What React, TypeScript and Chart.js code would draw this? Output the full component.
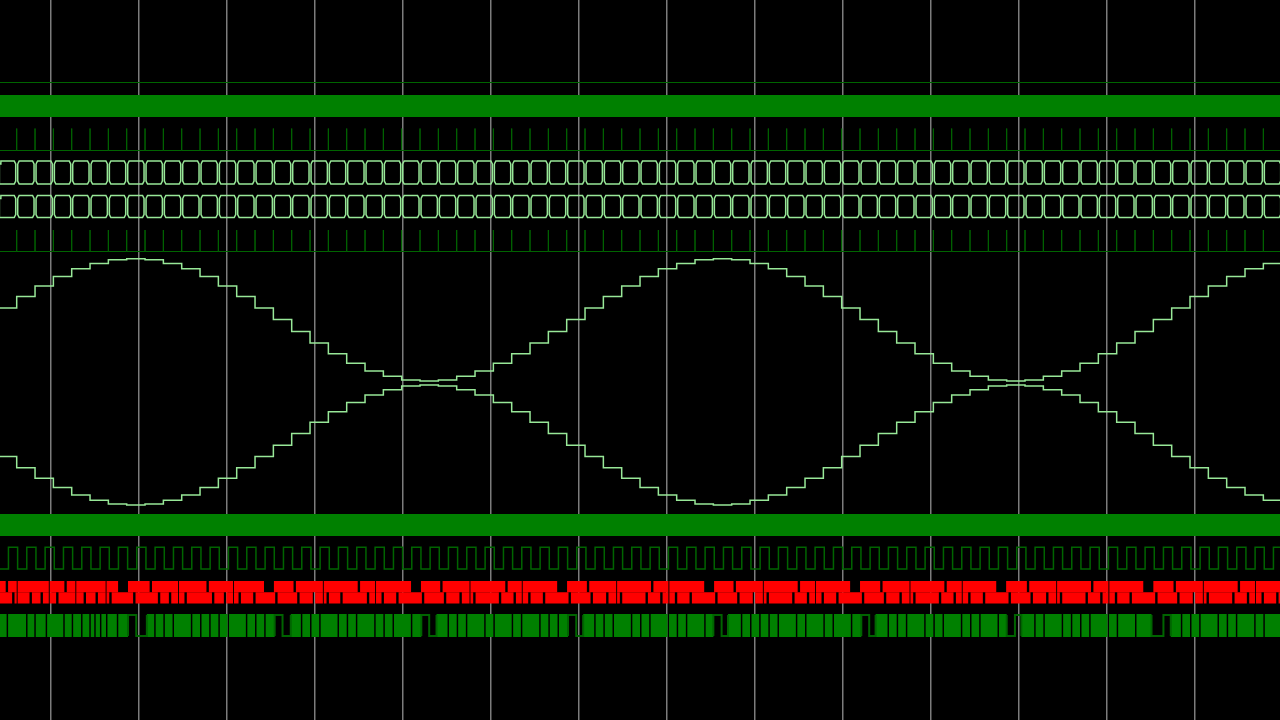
import { useEffect, useRef } from "react";
import { Chart, registerables } from "chart.js";

Chart.register(...registerables);

// ---------- time base: x axis in screen divisions, 4.8 samples per division ----------
const DIV_MIN = -0.5795;
const DIV_MAX = 13.966;
const DIV_TICKS = [0, 1, 2, 3, 4, 5, 6, 7, 8, 9, 10, 11, 12, 13];
const SAMPLE0_DIV = -0.598;
const DIV_PER_SAMPLE = 0.20833;
const PX_PER_DIV = 88;

// ---------- data ----------
const SAMPLE_EDGES = [
  1, 2, 3, 4, 5, 6, 7, 8, 9, 10, 11, 12, 13, 14, 15, 16, 17, 18, 19, 20, 21, 22, 23,
  24, 25, 26, 27, 28, 29, 30, 31, 32, 33, 34, 35, 36, 37, 38, 39, 40, 41, 42, 43, 44,
  45, 46, 47, 48, 49, 50, 51, 52, 53, 54, 55, 56, 57, 58, 59, 60, 61, 62, 63, 64, 65,
  66, 67, 68, 69,
];

// DAC codes (0..255) per sample
const SINE_P = [
  152, 176, 198, 218, 234, 245, 253, 255, 253, 245, 234, 218, 198, 176, 152, 128,
  103, 79, 57, 37, 21, 10, 2, 0, 2, 10, 21, 37, 57, 79, 103, 128,
  152, 176, 198, 218, 234, 245, 253, 255, 253, 245, 234, 218, 198, 176, 152, 128,
  103, 79, 57, 37, 21, 10, 2, 0, 2, 10, 21, 37, 57, 79, 103, 128,
  152, 176, 198, 218, 234, 245,
];
const SINE_N = [
  103, 79, 57, 37, 21, 10, 2, 0, 2, 10, 21, 37, 57, 79, 103, 127,
  152, 176, 198, 218, 234, 245, 253, 255, 253, 245, 234, 218, 198, 176, 152, 127,
  103, 79, 57, 37, 21, 10, 2, 0, 2, 10, 21, 37, 57, 79, 103, 127,
  152, 176, 198, 218, 234, 245, 253, 255, 253, 245, 234, 218, 198, 176, 152, 127,
  103, 79, 57, 37, 21, 10,
];

// clock level per half sample
const CLOCK = [
  0, 1, 0, 1, 0, 1, 0, 1, 0, 1, 0, 1, 0, 1, 0, 1, 0, 1, 0, 1, 0, 1, 0, 1, 0, 1, 0, 1,
  0, 1, 0, 1, 0, 1, 0, 1, 0, 1, 0, 1, 0, 1, 0, 1, 0, 1, 0, 1, 0, 1, 0, 1, 0, 1, 0, 1,
  0, 1, 0, 1, 0, 1, 0, 1, 0, 1, 0, 1, 0, 1, 0, 1, 0, 1, 0, 1, 0, 1, 0, 1, 0, 1, 0, 1,
  0, 1, 0, 1, 0, 1, 0, 1, 0, 1, 0, 1, 0, 1, 0, 1, 0, 1, 0, 1, 0, 1, 0, 1, 0, 1, 0, 1,
  0, 1, 0, 1, 0, 1, 0, 1, 0, 1, 0, 1, 0, 1, 0, 1, 0, 1, 0, 1, 0, 1, 0, 1, 0, 1, 0, 1,
];
const CLOCK_PHASE = 0.05; // samples

// fast serial line (green): intervals (in samples) where the line holds a level
const GREEN_HOLD_START = [7.07, 7.52, 15.07, 15.5, 23.07, 23.5, 31.07, 31.52, 39.0, 39.45, 47.07, 47.5, 55.0, 55.45, 62.9, 63.55];
const GREEN_HOLD_END = [7.52, 8.1, 15.5, 15.95, 23.5, 23.9, 31.52, 31.9, 39.45, 39.8, 47.5, 47.85, 55.45, 55.8, 63.55, 63.95];
const GREEN_HOLD_LEVEL = [1, 0, 1, 0, 1, 0, 1, 0, 1, 0, 1, 0, 0, 1, 0, 1];
// short idle slivers (sample position)
const GREEN_SLIVERS = [
  0.45, 1.51, 1.96, 2.58, 3.54, 4.0, 4.51, 4.96, 5.23, 5.54, 5.87, 6.46,
  8.5, 9.0, 9.5, 10.5, 11.0, 11.5, 12.0, 12.5, 13.5, 14.0, 14.5,
  16.5, 17.0, 17.5, 18.5, 19.0, 19.5, 20.5, 21.0, 21.5, 22.5,
  24.5, 25.0, 25.5, 26.5, 27.0, 28.0, 28.5, 29.5, 30.0, 30.5,
  32.5, 33.0, 33.5, 34.5, 35.0, 35.5, 36.5, 37.0, 37.5, 38.5,
  40.5, 41.0, 41.5, 42.0, 42.5, 43.5, 44.0, 45.0, 45.5, 46.5,
  48.5, 49.0, 49.5, 50.5, 51.0, 51.5, 52.5, 53.0, 53.5, 54.5,
  56.5, 57.0, 58.0, 58.5, 59.0, 59.5, 60.5, 61.0, 62.0,
  64.5, 65.0, 65.5, 66.5, 67.0, 67.5, 68.5, 69.0,
];
const GREEN_SLIVER_W = 0.08;

// fast bus (red): idle intervals in the upper half, lower half, or both
const RED_UPPER_IDLE_START = [6.53, 14.49, 22.51, 30.48, 38.5, 46.46, 54.43, 62.45];
const RED_UPPER_IDLE_END = [7.07, 15.03, 23.05, 31.02, 39.04, 47.0, 54.97, 63.0];
const RED_UPPER_SLIVERS = [
  0.4, 3.6, 8.25, 11.35, 16.1, 19.6, 24.1, 27.65, 32.1, 35.6,
  40.1, 43.6, 48.1, 51.6, 56.1, 59.6, 64.1, 67.6,
];
const RED_LOWER_SLIVERS = [
  0.75, 1.7, 2.3, 3.15, 4.65, 5.3, 6.05, 7.35, 8.7, 9.3, 10.15, 11.65, 12.3, 13.1, 13.9,
  15.1, 16.3, 17.15, 17.9, 18.65, 20.1, 20.9, 21.7, 23.1, 24.3, 25.15, 25.9, 27.3, 28.1,
  28.9, 29.7, 31.1, 32.3, 33.15, 33.9, 35.3, 36.1, 36.9, 37.7, 39.1, 40.3, 41.15, 41.9,
  43.3, 44.1, 44.9, 45.7, 47.1, 48.3, 49.15, 49.9, 51.3, 52.1, 52.9, 53.7, 55.1, 56.3,
  57.15, 57.9, 59.3, 60.1, 60.9, 61.7, 63.1, 64.3, 65.15, 65.9, 67.3, 68.1, 68.9, 69.7,
];
const RED_FULL_SLIVERS = [
  1.0, 2.75, 4.2, 5.85, 9.8, 12.8, 17.7, 20.55, 25.7, 28.55, 33.7, 36.55,
  41.7, 44.55, 49.7, 52.55, 57.7, 60.55, 65.7, 68.55,
];
const RED_SLIVER_W = 0.13;
const RED_THIN_W = 0.05;

// ---------- layout / styles ----------
const LANES = {
  flat: { y: 82.5 },
  band1: { top: 95, bottom: 117 },
  pulse1: { top: 128.5, base: 150.5 },
  busA: { top: 161, bottom: 184 },
  busB: { top: 195.5, bottom: 217.5 },
  pulse2: { top: 230, base: 251.5 },
  sineP: { top: 258.7, bottom: 381 },
  sineN: { top: 385, bottom: 505 },
  band2: { top: 514, bottom: 536 },
  clock: { top: 547.3, bottom: 569 },
  red: { top: 581, bottom: 603.4 },
  green: { top: 614, bottom: 637, hi: 615, lo: 636 },
};
const COL = {
  dark: "#006400",
  band: "#008000",
  light: "#98e898",
  red: "#ff0000",
  grid: "#7c7c7c",
};

type Pt = { x: number; y: number | null };
const u2x = (u: number) => SAMPLE0_DIV + u * DIV_PER_SAMPLE;
const px2div = (p: number) => p / PX_PER_DIV;

function lineDs(data: Pt[], color: string, width: number, order = 0) {
  return {
    type: "line" as const,
    data,
    borderColor: color,
    backgroundColor: color,
    borderWidth: width,
    pointRadius: 0,
    fill: false,
    tension: 0,
    spanGaps: false,
    order,
    borderCapStyle: "butt" as const,
    borderJoinStyle: "miter" as const,
  };
}

function flat(y: number): Pt[] {
  return [
    { x: DIV_MIN, y },
    { x: DIV_MAX, y },
  ];
}

function pulses(top: number, base: number): Pt[] {
  const pts: Pt[] = [{ x: DIV_MIN, y: base }];
  SAMPLE_EDGES.forEach((e) => {
    const x = u2x(e);
    pts.push({ x, y: base }, { x, y: top }, { x, y: base });
  });
  pts.push({ x: DIV_MAX, y: base });
  return pts;
}

function bus(top: number, bottom: number): Pt[] {
  const g = px2div(1);
  const c = px2div(2.5);
  const v = 3;
  const bounds = [0, ...SAMPLE_EDGES, SAMPLE_EDGES.length + 1];
  const pts: Pt[] = [];
  for (let i = 0; i < bounds.length - 1; i++) {
    const a = u2x(bounds[i]);
    const b = u2x(bounds[i + 1]);
    pts.push(
      { x: a + g, y: top + v },
      { x: a + c, y: top },
      { x: b - c, y: top },
      { x: b - g, y: top + v },
      { x: b - g, y: bottom - v },
      { x: b - c, y: bottom },
      { x: a + c, y: bottom },
      { x: a + g, y: bottom - v },
      { x: a + g, y: top + v },
      { x: b, y: null }
    );
  }
  return pts;
}

function steps(values: number[], top: number, bottom: number, full: number): Pt[] {
  const pts: Pt[] = [];
  values.forEach((v, i) => {
    const y = bottom - (v / full) * (bottom - top);
    pts.push({ x: u2x(i), y }, { x: u2x(i + 1), y });
  });
  return pts;
}

function clockPts(top: number, bottom: number): Pt[] {
  const pts: Pt[] = [];
  CLOCK.forEach((v, i) => {
    const y = v ? top : bottom;
    pts.push({ x: u2x(i / 2 + CLOCK_PHASE), y }, { x: u2x((i + 1) / 2 + CLOCK_PHASE), y });
  });
  return pts;
}

// complement of idle intervals over the visible range -> active runs [a,b] in samples
function activeRuns(starts: number[], ends: number[]): [number, number][] {
  const iv = starts.map((s, i) => [s, ends[i]] as [number, number]).sort((p, q) => p[0] - q[0]);
  const runs: [number, number][] = [];
  let cur = -1;
  iv.forEach(([s, e]) => {
    if (s > cur) runs.push([cur, s]);
    cur = Math.max(cur, e);
  });
  runs.push([cur, 71]);
  return runs;
}

function blocks(runs: [number, number][], y: number): Pt[] {
  const pts: Pt[] = [];
  runs.forEach(([a, b]) => {
    pts.push({ x: u2x(a), y }, { x: u2x(b), y }, { x: u2x(b), y: null });
  });
  return pts;
}

function holdLine(hi: number, lo: number): Pt[] {
  const pts: Pt[] = [];
  GREEN_HOLD_START.forEach((s, i) => {
    const e = GREEN_HOLD_END[i];
    const lvl = GREEN_HOLD_LEVEL[i] ? hi : lo;
    const opp = GREEN_HOLD_LEVEL[i] ? lo : hi;
    pts.push(
      { x: u2x(s), y: opp },
      { x: u2x(s), y: lvl },
      { x: u2x(e), y: lvl },
      { x: u2x(e), y: opp },
      { x: u2x(e), y: null }
    );
  });
  return pts;
}

function buildDatasets() {
  const L = LANES;
  const redH = L.red.bottom - L.red.top;
  const redUpperY = L.red.top + redH / 4;
  const redLowerY = L.red.top + (3 * redH) / 4;
  const thinEnds = RED_FULL_SLIVERS.map((s) => s + RED_THIN_W);
  const upStarts = [...RED_UPPER_IDLE_START, ...RED_UPPER_SLIVERS, ...RED_FULL_SLIVERS];
  const upEnds = [...RED_UPPER_IDLE_END, ...RED_UPPER_SLIVERS.map((s) => s + RED_SLIVER_W), ...thinEnds];
  const lowStarts = [...RED_LOWER_SLIVERS, ...RED_FULL_SLIVERS];
  const lowEnds = [...RED_LOWER_SLIVERS.map((s) => s + RED_SLIVER_W), ...thinEnds];

  const gMid = (L.green.top + L.green.bottom) / 2;
  const gH = L.green.bottom - L.green.top;
  const gStarts = [...GREEN_HOLD_START, ...GREEN_SLIVERS];
  const gEnds = [...GREEN_HOLD_END, ...GREEN_SLIVERS.map((s) => s + GREEN_SLIVER_W)];

  return [
    lineDs(flat(L.flat.y), COL.dark, 1),
    lineDs(flat((L.band1.top + L.band1.bottom) / 2), COL.band, L.band1.bottom - L.band1.top),
    lineDs(pulses(L.pulse1.top, L.pulse1.base), COL.dark, 1),
    lineDs(bus(L.busA.top, L.busA.bottom), COL.light, 1.5),
    lineDs(bus(L.busB.top, L.busB.bottom), COL.light, 1.5),
    lineDs(pulses(L.pulse2.top, L.pulse2.base), COL.dark, 1),
    lineDs(steps(SINE_P, L.sineP.top, L.sineP.bottom, 255), COL.light, 1.5),
    lineDs(steps(SINE_N, L.sineN.top, L.sineN.bottom, 255), COL.light, 1.5),
    lineDs(flat((L.band2.top + L.band2.bottom) / 2), COL.band, L.band2.bottom - L.band2.top),
    lineDs(clockPts(L.clock.top, L.clock.bottom), COL.dark, 1.5),
    lineDs(blocks(activeRuns(upStarts, upEnds), redUpperY), COL.red, redH / 2),
    lineDs(blocks(activeRuns(lowStarts, lowEnds), redLowerY), COL.red, redH / 2),
    lineDs(holdLine(L.green.hi, L.green.lo), COL.dark, 2),
    lineDs(blocks(activeRuns(gStarts, gEnds), gMid), COL.band, gH, 1),
  ];
}

export default function App() {
  const ref = useRef<HTMLCanvasElement>(null);
  useEffect(() => {
    if (!ref.current) return;
    const chart = new Chart(ref.current, {
      type: "line",
      data: { datasets: buildDatasets() as any },
      options: {
        animation: false,
        responsive: false,
        devicePixelRatio: 1,
        events: [],
        layout: { padding: 0 },
        plugins: { legend: { display: false }, tooltip: { enabled: false } },
        scales: {
          x: {
            type: "linear",
            min: DIV_MIN,
            max: DIV_MAX,
            afterBuildTicks: (s: any) => {
              s.ticks = DIV_TICKS.map((v) => ({ value: v }));
            },
            ticks: { display: false },
            grid: { color: COL.grid, lineWidth: 1.5, drawTicks: false },
            border: { display: false },
          },
          y: { type: "linear", min: 0, max: 720, reverse: true, display: false },
        },
      },
    });
    return () => chart.destroy();
  }, []);
  return (
    <div style={{ position: "fixed", left: 0, top: 0, width: 1280, height: 720, background: "#000" }}>
      <canvas ref={ref} width={1280} height={720} style={{ display: "block" }} />
    </div>
  );
}
